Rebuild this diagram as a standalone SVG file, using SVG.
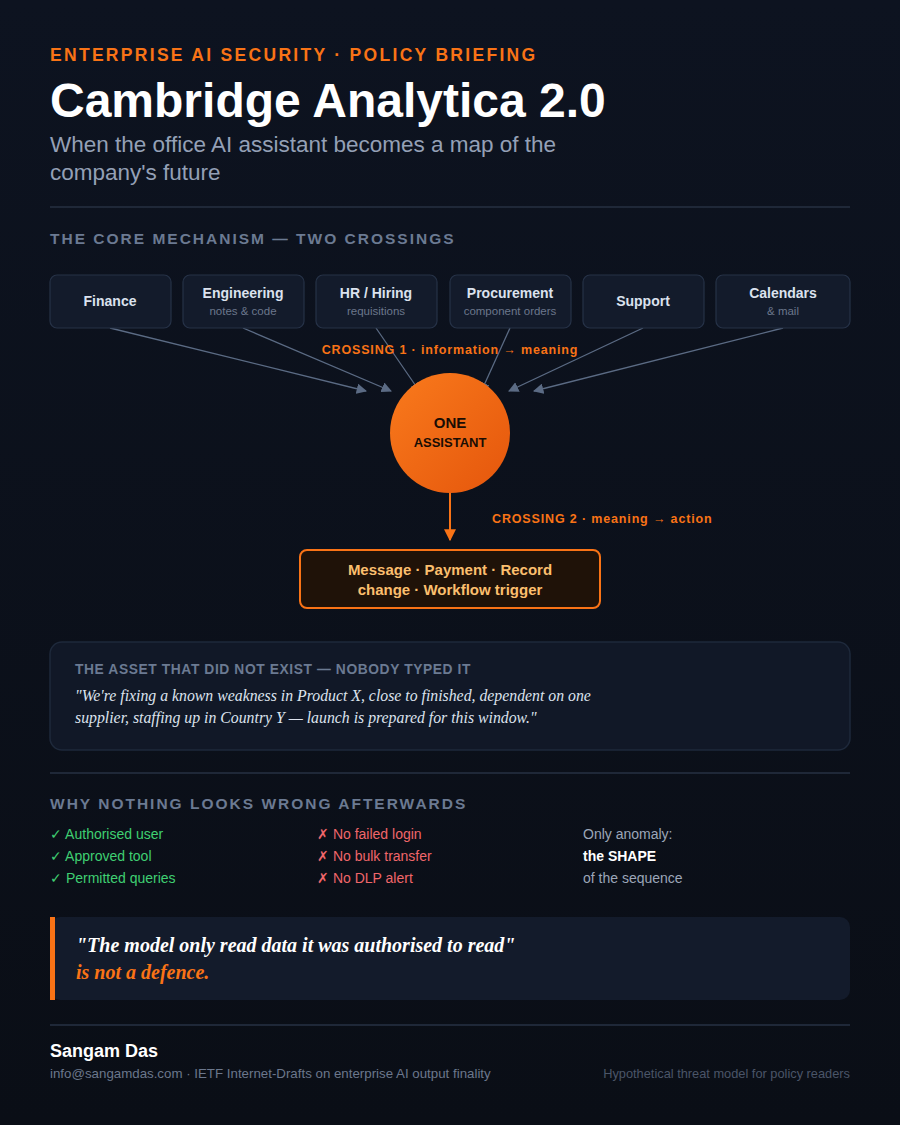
<svg xmlns="http://www.w3.org/2000/svg" width="900" height="1125" viewBox="0 0 900 1125">
<defs>
<linearGradient id="bg" x1="0" y1="0" x2="0" y2="1"><stop offset="0" stop-color="#0d1320"/><stop offset="1" stop-color="#0a0e16"/></linearGradient>
<linearGradient id="og" x1="0" y1="0" x2="1" y2="1"><stop offset="0" stop-color="#f97a1c"/><stop offset="1" stop-color="#e5560c"/></linearGradient>
<marker id="ga" viewBox="0 0 10 10" refX="9" refY="5" markerWidth="8" markerHeight="8" orient="auto"><path d="M0,0L10,5L0,10z" fill="#5b6b84"/></marker>
<marker id="oa" viewBox="0 0 10 10" refX="9" refY="5" markerWidth="6" markerHeight="6" orient="auto"><path d="M0,0L10,5L0,10z" fill="#f97316"/></marker>
<style>
.box{fill:#131b2b;stroke:#263247;stroke-width:1.2}
.t{font-family:"Liberation Sans",Arial,sans-serif}
.nt{font-family:"Liberation Sans",Arial,sans-serif;font-weight:bold;font-size:14px;fill:#dbe2ee;text-anchor:middle}
.ns{font-family:"Liberation Sans",Arial,sans-serif;font-size:11.5px;fill:#6b778c;text-anchor:middle}
.sec{font-family:"Liberation Sans",Arial,sans-serif;font-weight:bold;font-size:15.5px;fill:#6b7a92;letter-spacing:2px}
.ln{stroke:#5b6b84;stroke-width:1.3;fill:none}
.g{fill:#3fcf72;font-size:14px}
.r{fill:#f0666a;font-size:14px}
.div{stroke:#1f2838;stroke-width:2}
</style>
</defs>
<rect width="900" height="1125" fill="url(#bg)"/>
<text class="t" x="50" y="61" font-size="17.5" font-weight="bold" fill="#f97316" letter-spacing="2.3">ENTERPRISE AI SECURITY · POLICY BRIEFING</text>
<text class="t" x="50" y="117" font-size="48" font-weight="bold" fill="#ffffff">Cambridge Analytica 2.0</text>
<text class="t" x="50" y="152" font-size="22.5" fill="#94a0b6">When the office AI assistant becomes a map of the</text>
<text class="t" x="50" y="180" font-size="22.5" fill="#94a0b6">company's future</text>
<line class="div" x1="50" y1="207" x2="850" y2="207"/>
<text class="sec" x="50" y="244">THE CORE MECHANISM — TWO CROSSINGS</text>
<g id="connectors">
<line class="ln" x1="110" y1="328" x2="366" y2="391" marker-end="url(#ga)"/>
<line class="ln" x1="243" y1="328" x2="391" y2="391" marker-end="url(#ga)"/>
<line class="ln" x1="376" y1="328" x2="420" y2="392" marker-end="url(#ga)"/>
<line class="ln" x1="510" y1="328" x2="481" y2="392" marker-end="url(#ga)"/>
<line class="ln" x1="643" y1="328" x2="509" y2="391" marker-end="url(#ga)"/>
<line class="ln" x1="783" y1="328" x2="534" y2="391" marker-end="url(#ga)"/>
<line x1="450" y1="493" x2="450" y2="540" stroke="#f97316" stroke-width="2" marker-end="url(#oa)"/>
<text class="t" x="450" y="354" font-size="12.5" font-weight="bold" fill="#f97316" text-anchor="middle" letter-spacing="0.85">CROSSING 1 · information → meaning</text>
<text class="t" x="492" y="523" font-size="12.5" font-weight="bold" fill="#f97316" letter-spacing="0.85">CROSSING 2 · meaning → action</text>
</g>
<g id="finance"><rect class="box" x="50" y="275" width="121" height="53" rx="7"/><text class="nt" x="110" y="306">Finance</text></g>
<g id="engineering"><rect class="box" x="183" y="275" width="121" height="53" rx="7"/><text class="nt" x="243" y="298">Engineering</text><text class="ns" x="243" y="315">notes &amp; code</text></g>
<g id="hr"><rect class="box" x="316" y="275" width="121" height="53" rx="7"/><text class="nt" x="376" y="298">HR / Hiring</text><text class="ns" x="376" y="315">requisitions</text></g>
<g id="procurement"><rect class="box" x="450" y="275" width="121" height="53" rx="7"/><text class="nt" x="510" y="298">Procurement</text><text class="ns" x="510" y="315">component orders</text></g>
<g id="support"><rect class="box" x="583" y="275" width="121" height="53" rx="7"/><text class="nt" x="643" y="306">Support</text></g>
<g id="calendars"><rect class="box" x="716" y="275" width="134" height="53" rx="7"/><text class="nt" x="783" y="298">Calendars</text><text class="ns" x="783" y="315">&amp; mail</text></g>
<g id="assistant"><circle cx="450" cy="433" r="60" fill="url(#og)"/><text class="t" x="450" y="428" font-size="15" font-weight="bold" fill="#1a0d04" text-anchor="middle">ONE</text><text class="t" x="450" y="447" font-size="13" font-weight="bold" fill="#1a0d04" text-anchor="middle">ASSISTANT</text></g>
<g id="action"><rect x="300" y="550" width="300" height="58" rx="7" fill="#1f1208" stroke="#f97316" stroke-width="2"/><text class="t" x="450" y="575" font-size="15" font-weight="bold" fill="#fbbf6e" text-anchor="middle">Message · Payment · Record</text><text class="t" x="450" y="595" font-size="15" font-weight="bold" fill="#fbbf6e" text-anchor="middle">change · Workflow trigger</text></g>
<g id="asset"><rect x="50" y="642" width="800" height="108" rx="12" fill="#111827" stroke="#1e293b" stroke-width="1.5"/>
<text class="t" x="75" y="674" font-size="13.8" font-weight="bold" fill="#6b7a92" letter-spacing="0.6">THE ASSET THAT DID NOT EXIST — NOBODY TYPED IT</text>
<text x="75" y="701" font-family="'Liberation Serif',serif" font-style="italic" font-size="15.8" fill="#dde3ee">"We're fixing a known weakness in Product X, close to finished, dependent on one</text>
<text x="75" y="723" font-family="'Liberation Serif',serif" font-style="italic" font-size="15.8" fill="#dde3ee">supplier, staffing up in Country Y — launch is prepared for this window."</text></g>
<line class="div" x1="50" y1="773" x2="850" y2="773"/>
<text class="sec" x="50" y="809">WHY NOTHING LOOKS WRONG AFTERWARDS</text>
<g id="checks">
<text class="t g" x="50" y="839">✓ Authorised user</text>
<text class="t g" x="50" y="861">✓ Approved tool</text>
<text class="t g" x="50" y="883">✓ Permitted queries</text>
<text class="t r" x="317" y="839">✗ No failed login</text>
<text class="t r" x="317" y="861">✗ No bulk transfer</text>
<text class="t r" x="317" y="883">✗ No DLP alert</text>
<text class="t" x="583" y="839" font-size="14" fill="#9ca6b8">Only anomaly:</text>
<text class="t" x="583" y="861" font-size="14" font-weight="bold" fill="#ffffff">the SHAPE</text>
<text class="t" x="583" y="883" font-size="14" fill="#9ca6b8">of the sequence</text>
</g>
<g id="quote"><rect x="50" y="917" width="800" height="83" rx="10" fill="#131b2b"/><rect x="50" y="917" width="5" height="83" fill="#f97316"/>
<text x="76" y="952" font-family="'Liberation Serif',serif" font-style="italic" font-weight="bold" font-size="20" fill="#ffffff">"The model only read data it was authorised to read"</text>
<text x="76" y="979" font-family="'Liberation Serif',serif" font-style="italic" font-weight="bold" font-size="20" fill="#f97316">is not a defence.</text></g>
<line class="div" x1="50" y1="1025" x2="850" y2="1025"/>
<text class="t" x="50" y="1057" font-size="18" font-weight="bold" fill="#ffffff">Sangam Das</text>
<text class="t" x="50" y="1078" font-size="13.3" fill="#6b778c">info@sangamdas.com · IETF Internet-Drafts on enterprise AI output finality</text>
<text class="t" x="850" y="1078" font-size="12.8" fill="#4a5568" text-anchor="end">Hypothetical threat model for policy readers</text>
</svg>
